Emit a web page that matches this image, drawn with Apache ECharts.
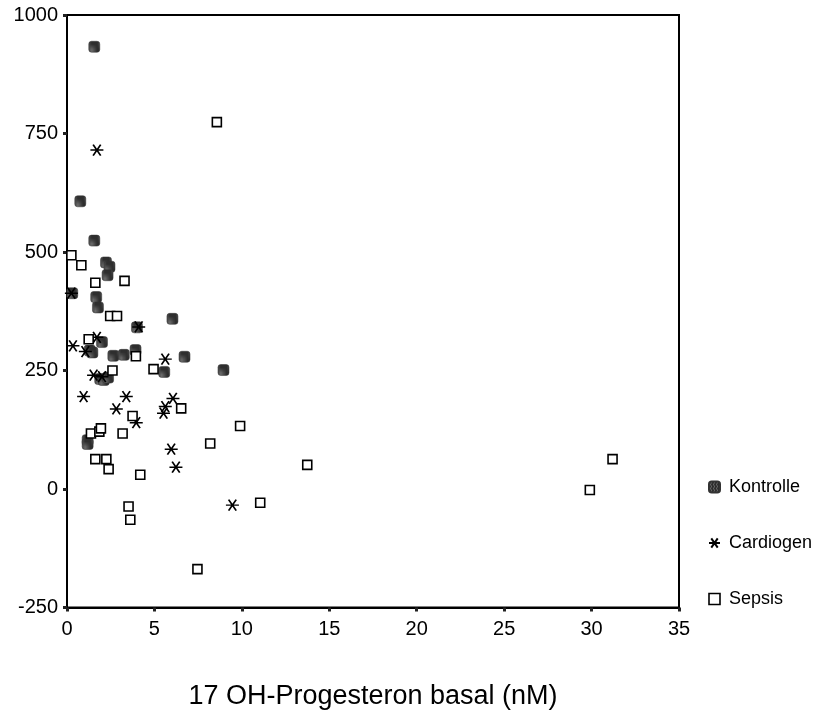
<!DOCTYPE html>
<html>
<head>
<meta charset="utf-8">
<script src="https://cdn.jsdelivr.net/npm/echarts@6/dist/echarts.min.js"></script>
<style>
  html, body { margin: 0; padding: 0; background: #fff; }
  #chart { width: 830px; height: 711px; }
</style>
</head>
<body>
<div id="chart"></div>
<script>
// Group values: 17 OH-progesterone basal (nM) vs. response
const kontrolleX = [1.56, 0.76, 1.56, 2.23, 2.43, 2.32, 0.30, 1.67, 1.77, 6.03, 4.00, 2.00, 1.30, 1.45, 2.65, 3.25, 3.92, 6.72, 5.56, 8.95, 1.90, 2.10, 2.35, 1.18, 1.18];
const kontrolleY = [933, 607, 524, 478, 469, 451, 413, 405, 383, 359, 341, 310, 292, 288, 281, 283, 293, 279, 247, 251, 232, 230, 235, 103, 95];

const cardiogenX = [1.71, 0.25, 4.10, 0.34, 1.71, 1.05, 5.62, 1.52, 2.00, 0.95, 3.39, 2.82, 6.06, 5.62, 5.52, 3.96, 5.96, 6.23, 9.46];
const cardiogenY = [715, 413, 342, 302, 320, 290, 274, 240, 237, 195, 195, 169, 191, 174, 160, 140, 84, 46, -34];

const sepsisX = [0.25, 0.82, 1.62, 3.29, 8.57, 2.47, 2.86, 1.24, 3.94, 4.95, 2.60, 6.53, 3.75, 9.90, 1.37, 1.85, 1.94, 3.18, 8.19, 1.62, 2.25, 2.38, 4.19, 13.74, 3.52, 3.62, 7.46, 11.05, 29.90, 31.20];
const sepsisY = [493, 472, 435, 439, 774, 365, 365, 316, 280, 253, 250, 170, 154, 133, 117, 121, 128, 117, 96, 63, 63, 42, 30, 51, -37, -65, -169, -29, -2, 63];

const groupNames = ['Kontrolle', 'Cardiogen', 'Sepsis'];
const xTitle = '17 OH-Progesteron basal (nM)';

function pairs(xs, ys) { return xs.map((x, i) => [x, ys[i]]); }

// Striped dark fill for the control markers
function stripeFill() {
  const c = document.createElement('canvas');
  c.width = 3; c.height = 4;
  const g = c.getContext('2d');
  g.fillStyle = '#2e2e2e';
  g.fillRect(0, 0, 3, 4);
  g.fillStyle = '#6a6a6a';
  g.fillRect(2, 0, 1, 2);
  g.fillRect(1, 2, 1, 2);
  return { image: c, repeat: 'repeat' };
}

const FONT = 'Liberation Sans, Arial, sans-serif';
const STAR = 'path://M0,5 L12,5 M2.5,0 L9.5,10 M9.5,0 L2.5,10';
const chart = echarts.init(document.getElementById('chart'), null, { renderer: 'canvas' });

chart.setOption({
  backgroundColor: '#ffffff',
  animation: false,
  grid: {
    left: 67, right: 151, top: 15, bottom: 103.5,
    outerBoundsMode: 'none', containLabel: false,
    show: true, borderColor: '#000', borderWidth: 2, backgroundColor: 'transparent'
  },
  xAxis: {
    type: 'value', min: 0, max: 35, interval: 5,
    name: xTitle, nameLocation: 'middle', nameGap: 76,
    nameTextStyle: { fontFamily: FONT, fontSize: 27, color: '#000' },
    axisLine: { show: true, onZero: false, lineStyle: { color: '#000', width: 2 } },
    axisTick: { show: true, length: 4, lineStyle: { color: '#222', width: 3 } },
    axisLabel: { fontFamily: FONT, fontSize: 20, color: '#000', margin: 12 },
    splitLine: { show: false }
  },
  yAxis: {
    type: 'value', min: -250, max: 1000, interval: 250,
    axisLine: { show: true, onZero: false, lineStyle: { color: '#000', width: 2 } },
    axisTick: { show: true, length: 4, lineStyle: { color: '#222', width: 3 } },
    axisLabel: { fontFamily: FONT, fontSize: 20, color: '#000', margin: 9, formatter: v => String(v) },
    splitLine: { show: false }
  },
  legend: {
    orient: 'vertical', left: 703, top: 473,
    itemWidth: 11, itemHeight: 11, itemGap: 38,
    textStyle: { fontFamily: FONT, fontSize: 18, color: '#000', padding: [0, 0, 0, 4] },
    data: [
      { name: groupNames[0], icon: 'roundRect' },
      { name: groupNames[1], icon: STAR },
      { name: groupNames[2], icon: 'rect', itemStyle: { borderWidth: 1.6 } }
    ]
  },
  series: [
    {
      name: groupNames[0], type: 'scatter',
      symbol: 'roundRect', symbolSize: [11, 11],
      itemStyle: { color: stripeFill(), borderColor: '#333', borderWidth: 0.5, opacity: 1 },
      data: pairs(kontrolleX, kontrolleY)
    },
    {
      name: groupNames[1], type: 'scatter',
      symbol: STAR, symbolSize: [13, 11],
      itemStyle: { color: 'rgba(0,0,0,0)', borderColor: '#000', borderWidth: 1.6, opacity: 1 },
      data: pairs(cardiogenX, cardiogenY)
    },
    {
      name: groupNames[2], type: 'scatter',
      symbol: 'rect', symbolSize: 9,
      itemStyle: { color: '#fff', borderColor: '#000', borderWidth: 1.6, opacity: 1 },
      data: pairs(sepsisX, sepsisY)
    }
  ]
});
</script>
</body>
</html>
